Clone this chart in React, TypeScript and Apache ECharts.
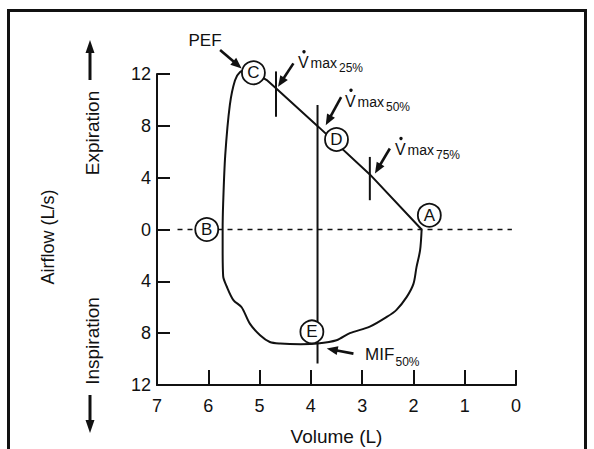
import React, { useEffect, useRef } from 'react';
import * as echarts from 'echarts';

const FONT = '"Liberation Sans", Arial, Helvetica, sans-serif';
const INK = '#111111';

// Inspiratory limb + left rise of the flow-volume loop (volume L, flow L/s; inspiration negative)
const loopVolume = [1.84, 1.87, 1.94, 2.0, 2.13, 2.33, 2.52, 2.85, 3.24, 3.5, 3.87, 4.2, 4.6, 4.8, 4.99, 5.19, 5.35, 5.51, 5.64, 5.71, 5.72, 5.72, 5.71, 5.67, 5.58, 5.48, 5.38, 5.25];
const loopFlow = [0, -1.6, -2.9, -4.2, -5.2, -6.2, -6.75, -7.5, -8.0, -8.55, -8.8, -8.85, -8.8, -8.68, -8.16, -7.26, -6.0, -5.45, -4.4, -3.6, -1.5, 0, 2.0, 5.7, 9.6, 11.5, 12.15, 12.3];

// Expiratory limb (PEF down to residual volume)
const expVolume = [5.25, 5.05, 4.86, 4.68, 3.84, 2.85, 1.84];
const expFlow = [12.3, 12.0, 11.53, 10.9, 7.88, 4.25, 0];

// Lettered points
const pointLetters = ['A', 'B', 'C', 'D', 'E'];
const pointVolume = [1.69, 6.03, 5.12, 3.5, 3.98];
const pointFlow = [1.1, 0, 12.1, 6.95, -7.9];

// Vertical marker lines (Vmax25, Vmax50 / MIF50, Vmax75)
const markerVolume = [4.68, 3.87, 2.85];
const markerTop = [12.2, 9.6, 5.6];
const markerBottom = [8.7, -10.35, 2.26];

// Zero-flow dashed line
const zeroLineVolume = [6.6, 0.08];

// Annotation arrows (from -> to, data units)
const arrowFromVolume = [5.77, 4.34, 3.41, 2.46, 3.17];
const arrowFromFlow = [13.85, 12.82, 10.22, 6.25, -9.58];
const arrowToVolume = [5.35, 4.64, 3.71, 2.75, 3.69];
const arrowToFlow = [12.43, 11.01, 8.05, 4.32, -9.19];

const vmaxPercents = ['25%', '50%', '75%'];

function arrowGraphic(x0: number, y0: number, x1: number, y1: number, head = 11, w = 9, lw = 2.6) {
  const dx = x1 - x0;
  const dy = y1 - y0;
  const L = Math.hypot(dx, dy) || 1;
  const ux = dx / L;
  const uy = dy / L;
  const bx = x1 - ux * head;
  const by = y1 - uy * head;
  const px = -uy;
  const py = ux;
  return [
    { type: 'line', z: 100, silent: true, shape: { x1: x0, y1: y0, x2: bx + ux * 2, y2: by + uy * 2 }, style: { stroke: INK, lineWidth: lw } },
    {
      type: 'polygon', z: 100, silent: true,
      shape: { points: [[x1, y1], [bx + (px * w) / 2, by + (py * w) / 2], [bx - (px * w) / 2, by - (py * w) / 2]] },
      style: { fill: INK },
    },
  ];
}

function txt(text: string, x: number, y: number, size: number, align = 'left', rotation = 0) {
  return {
    type: 'text', z: 100, silent: true, x, y, rotation,
    style: { text, font: `${size}px ${FONT}`, fill: INK, align, verticalAlign: 'middle' },
  };
}

// baseline-anchored text (middle of em box ~0.35em above baseline)
function btxt(text: string, x: number, baseline: number, size: number, align = 'left') {
  return txt(text, x, baseline - 0.35 * size, size, align);
}

function vmaxLabel(x: number, yb: number, pct: string) {
  return [
    btxt('V', x, yb, 16),
    { type: 'circle', z: 100, silent: true, shape: { cx: x + 6, cy: yb - 16.5, r: 1.7 }, style: { fill: INK } },
    btxt('max', x + 12.5, yb, 14),
    btxt(pct, x + 41, yb + 4, 12),
  ];
}

export default function App() {
  const ref = useRef<HTMLDivElement>(null);

  useEffect(() => {
    const chart = echarts.init(ref.current!, undefined, { renderer: 'svg' });

    const baseLine = (name: string, data: number[][], extra: any = {}) => ({
      type: 'line', name, data, symbol: 'none', clip: false, silent: true,
      lineStyle: { color: INK, width: 2 }, z: 3, ...extra,
    });

    const series: any[] = [
      baseLine('zero', zeroLineVolume.map((v) => [v, 0]), { lineStyle: { color: INK, width: 1.5, type: [5, 5] }, z: 2 }),
      baseLine('loop', loopVolume.map((v, i) => [v, loopFlow[i]]), { smooth: 0.3 }),
      baseLine('expiration', expVolume.map((v, i) => [v, expFlow[i]])),
      ...markerVolume.map((v, i) => baseLine('marker' + i, [[v, markerTop[i]], [v, markerBottom[i]]])),
      {
        type: 'scatter', name: 'points', silent: true, clip: false, z: 10,
        data: pointVolume.map((v, i) => [v, pointFlow[i], pointLetters[i]]),
        symbol: 'circle', symbolSize: 23,
        itemStyle: { color: '#ffffff', borderColor: INK, borderWidth: 1.8, opacity: 1 },
        label: {
          show: true, position: 'inside', formatter: (p: any) => p.data[2],
          color: INK, fontSize: 17, fontFamily: FONT,
        },
      },
    ];

    const option: any = {
      animation: false,
      backgroundColor: '#ffffff',
      grid: { left: 157, right: 78, top: 74, bottom: 64, containLabel: false, outerBoundsMode: 'none' },
      xAxis: {
        type: 'value', min: 0, max: 7, interval: 1, inverse: true,
        axisLine: { show: true, onZero: false, lineStyle: { color: INK, width: 2 } },
        axisTick: { show: true, inside: true, length: 15, lineStyle: { color: INK, width: 2 } },
        axisLabel: { color: INK, fontSize: 18, fontFamily: FONT, margin: 12 },
        splitLine: { show: false },
        name: 'Volume (L)', nameLocation: 'middle', nameGap: 42,
        nameTextStyle: { color: INK, fontSize: 19, fontFamily: FONT },
      },
      yAxis: {
        type: 'value', min: -12, max: 12, interval: 4,
        axisLine: { show: true, onZero: false, lineStyle: { color: INK, width: 2 } },
        axisTick: { show: true, inside: true, length: 13, lineStyle: { color: INK, width: 2 } },
        axisLabel: { color: INK, fontSize: 18, fontFamily: FONT, margin: 6, formatter: (v: number) => String(Math.abs(v)) },
        splitLine: { show: false },
      },
      series,
    };

    chart.setOption(option);

    const graphics: any[] = [
      { type: 'rect', z: 100, silent: true, shape: { x: 8.5, y: 10.5, width: 577, height: 500 }, style: { fill: 'none', stroke: INK, lineWidth: 3 } },
      txt('Airflow (L/s)', 48, 237, 18, 'center', Math.PI / 2),
      txt('Expiration', 92, 133, 19, 'center', Math.PI / 2),
      txt('Inspiration', 92, 341, 19, 'center', Math.PI / 2),
      ...arrowGraphic(90, 80, 90, 40, 13, 9, 3),
      ...arrowGraphic(90, 395, 90, 433, 13, 9, 3),
      btxt('PEF', 205, 46.7, 17, 'center'),
      ...vmaxLabel(298, 68.3, vmaxPercents[0]),
      ...vmaxLabel(345, 106.7, vmaxPercents[1]),
      ...vmaxLabel(395, 155, vmaxPercents[2]),
      btxt('MIF', 365, 360, 17),
      btxt('50%', 395.5, 366, 12),
    ];

    arrowFromVolume.forEach((v, i) => {
      const p0 = chart.convertToPixel({ gridIndex: 0 }, [v, arrowFromFlow[i]]) as number[];
      const p1 = chart.convertToPixel({ gridIndex: 0 }, [arrowToVolume[i], arrowToFlow[i]]) as number[];
      graphics.push(...arrowGraphic(p0[0], p0[1], p1[0], p1[1]));
    });

    chart.setOption({ graphic: graphics });

    return () => chart.dispose();
  }, []);

  return (
    <div
      ref={ref}
      style={{ position: 'fixed', left: 0, top: 0, width: 594, height: 449, background: '#ffffff' }}
    />
  );
}
